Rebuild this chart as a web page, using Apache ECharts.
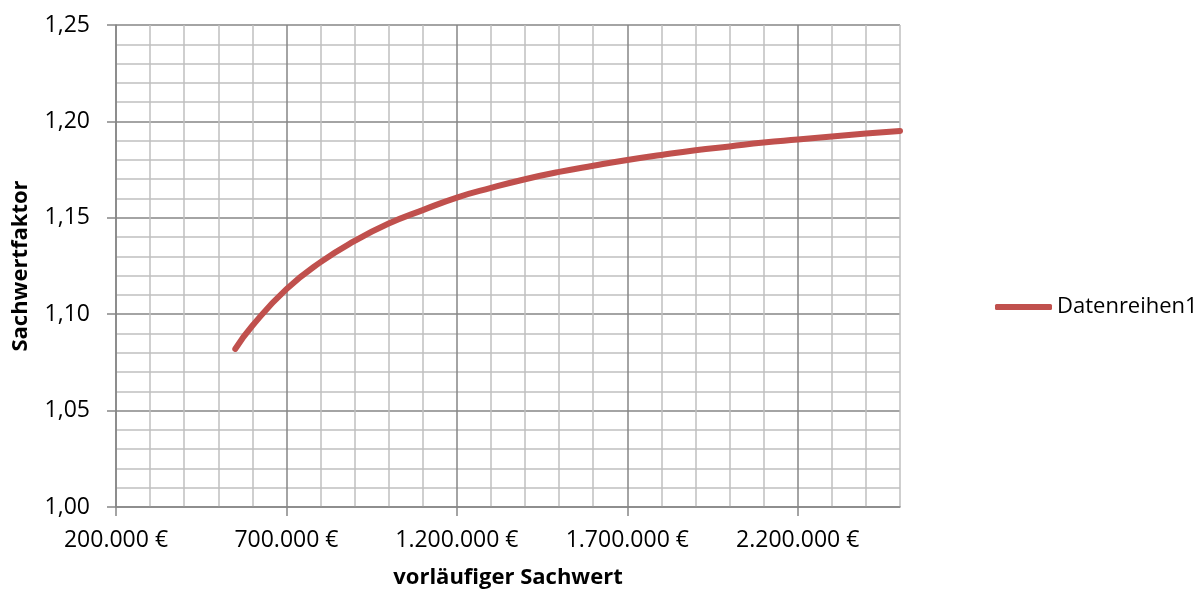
<!DOCTYPE html>
<html>
<head>
<meta charset="utf-8">
<script src="https://cdn.jsdelivr.net/npm/echarts@6/dist/echarts.min.js"></script>
<style>
  html, body { margin: 0; padding: 0; background: #ffffff; }
  #chart { width: 1204px; height: 592px; }
</style>
</head>
<body>
<div id="chart"></div>
<script>
// vorläufiger Sachwert (€) and the matching Sachwertfaktor
const sachwert = [550000, 600000, 700000, 800000, 900000, 1000000, 1100000, 1200000,
  1300000, 1400000, 1500000, 1600000, 1700000, 1800000, 1900000, 2000000,
  2100000, 2200000, 2300000, 2400000, 2500000];
const faktor = [1.0820, 1.0940, 1.1130, 1.1270, 1.1380, 1.1470, 1.1540, 1.1605,
  1.1655, 1.1700, 1.1738, 1.1770, 1.1800, 1.1826, 1.1850, 1.1870,
  1.1890, 1.1906, 1.1922, 1.1937, 1.1950];

const seriesName = 'Datenreihen1';
const xTicks = [200000, 700000, 1200000, 1700000, 2200000];
const yTicks = [1.00, 1.05, 1.10, 1.15, 1.20, 1.25];

const FONT = '"Open Sans", "Liberation Sans", sans-serif';
const MAJOR = '#868686';
const MINOR = '#bfbfbf';
// every fifth grid line is a major line
const gridColors = [MAJOR, MINOR, MINOR, MINOR, MINOR];

const euro = v => Math.round(v).toString().replace(/\B(?=(\d{3})+(?!\d))/g, '.') + ' €';
const komma = v => v.toFixed(2).replace('.', ',');

// axis that only carries the fine grid (one line per step)
const gridAxis = (min, max, step) => ({
  type: 'value',
  min: min,
  max: max,
  interval: step,
  axisLine: { show: false },
  axisTick: { show: false },
  axisLabel: { show: false },
  splitLine: { show: true, lineStyle: { color: gridColors, width: 1.5 } }
});

const chart = echarts.init(document.getElementById('chart'), null, { renderer: 'canvas' });
chart.setOption({
  backgroundColor: '#ffffff',
  animation: false,
  grid: { left: 116, right: 304, top: 25, bottom: 85, containLabel: false, outerBoundsMode: 'none' },
  legend: {
    left: 995,
    top: 296,
    padding: 0,
    icon: 'roundRect',
    itemWidth: 57,
    itemHeight: 6,
    itemGap: 0,
    data: [seriesName],
    textStyle: { fontFamily: FONT, fontSize: 22, color: '#000000' }
  },
  xAxis: [{
    type: 'value',
    min: 200000,
    max: 2500000,
    interval: 100000,
    name: 'vorläufiger Sachwert',
    nameLocation: 'middle',
    nameGap: 60,
    nameTextStyle: { fontFamily: FONT, fontSize: 22, fontWeight: 'bold', color: '#000000' },
    axisLine: { show: true, lineStyle: { color: MAJOR, width: 1.5 } },
    axisTick: { show: true, customValues: xTicks, length: 9, lineStyle: { color: MAJOR, width: 1.5 } },
    axisLabel: {
      customValues: xTicks,
      formatter: euro,
      margin: 22,
      fontFamily: FONT, fontSize: 23, color: '#000000'
    },
    splitLine: { show: false },
    z: 3
  }, Object.assign(gridAxis(200000, 2500000, 100000), { position: 'bottom', z: 1 })],
  yAxis: [{
    type: 'value',
    min: 1.00,
    max: 1.25,
    interval: 0.01,
    name: 'Sachwertfaktor',
    nameLocation: 'middle',
    nameRotate: 90,
    nameGap: 84,
    nameTextStyle: { fontFamily: FONT, fontSize: 22, fontWeight: 'bold', color: '#000000' },
    axisLine: { show: true, lineStyle: { color: MAJOR, width: 1.5 } },
    axisTick: { show: true, customValues: yTicks, length: 9, lineStyle: { color: MAJOR, width: 1.5 } },
    axisLabel: {
      customValues: yTicks,
      formatter: komma,
      margin: 26,
      fontFamily: FONT, fontSize: 23, color: '#000000'
    },
    splitLine: { show: false },
    z: 3
  }, Object.assign(gridAxis(1.00, 1.25, 0.01), { position: 'left', z: 1 })],
  series: [{
    name: seriesName,
    type: 'line',
    xAxisIndex: 0,
    yAxisIndex: 0,
    smooth: 0.5,
    symbol: 'none',
    data: sachwert.map((x, i) => [x, faktor[i]]),
    lineStyle: { color: '#c0504d', width: 6, cap: 'round', join: 'round' },
    itemStyle: { color: '#c0504d' },
    z: 5
  }]
});
</script>
</body>
</html>
